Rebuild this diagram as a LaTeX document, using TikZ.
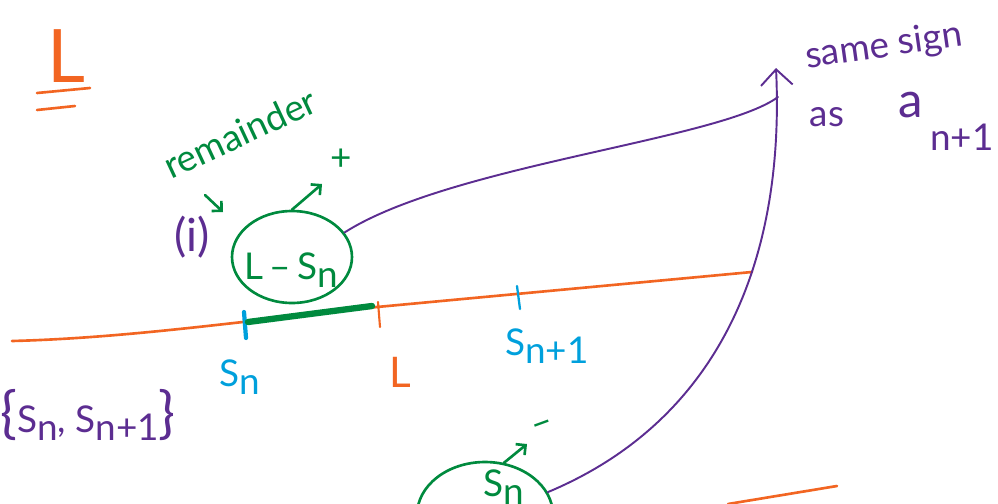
\documentclass[tikz,border=0pt]{standalone}
\usepackage{fontspec}
\setmainfont{Lato}
\usetikzlibrary{arrows.meta, positioning, calc, shapes}
\definecolor{inkorange}{RGB}{242,101,34}
\definecolor{inkgreen}{RGB}{0,138,62}
\definecolor{inkblue}{RGB}{0,160,220}
\definecolor{inkpurple}{RGB}{92,45,145}
\newcommand{\lowsub}[1]{\raisebox{-0.45ex}{#1}}

\begin{document}
\begin{tikzpicture}[x=0.02cm, y=-0.02cm,
    hand/.style={font=\fontsize{21}{25}\selectfont, inner sep=0pt},
    orangeink/.style={draw=inkorange, line width=1.5pt, line cap=round},
    blueink/.style={draw=inkblue, line cap=round},
    purpleink/.style={draw=inkpurple, line width=1.1pt, line cap=round},
    greenarrow/.style={draw=inkgreen, line width=1.5pt, line cap=round, -{Straight Barb[length=4pt, width=8pt]}},
    blob/.style={ellipse, draw=inkgreen, line width=1.5pt}]
  \useasboundingbox (0,0) rectangle (998,504);
  % double underlined L
  \node[hand, text=inkorange, font=\fontsize{42}{48}\selectfont] (bigL) at (66,56) {L};
  \draw[orangeink] (37,93) -- (90,88);
  \draw[orangeink] (37,110) -- (75,106);
  % remainder and case (i)
  \node[hand, text=inkgreen, rotate=25] (remword) at (240,133) {remainder};
  \coordinate (remfoot) at (205,195);
  \coordinate (remtip) at (223,212);
  \draw[greenarrow] (remfoot) -- (remtip);
  \node[hand, text=inkpurple, font=\fontsize{26}{30}\selectfont] (case) at (192,237) {(i)};
  % L - S_n blob
  \node[blob, minimum width=2.4cm, minimum height=1.84cm] (remblob) at (292,257) {};
  \node[hand, text=inkgreen] (remtext) at (291,270) {L\,–\,S\lowsub{n}};
  \coordinate (plustip) at (322,184);
  \draw[greenarrow] (remblob.north) -- (plustip);
  \node[hand, text=inkgreen] (plus) at (341,160) {+};
  % number line
  \draw[orangeink] (12,341) .. controls (130,338) and (250,320) .. (377,307) -- (752,272);
  \draw[blueink, line width=2.4pt] (244,312) -- (246,338);
  \draw[orangeink, line width=1.2pt] (378,302) -- (380,327);
  \draw[blueink, line width=1.3pt] (517,286) -- (520,309);
  \draw[inkgreen, line width=3.6pt, line cap=round] (248,322) -- (372,306);
  \node[hand, text=inkblue] (snlab) at (240,377) {S\lowsub{n}};
  \node[hand, text=inkorange, font=\fontsize{24}{28}\selectfont] (llab) at (400,372) {L};
  \node[hand, text=inkblue] (snnextlab) at (547,346) {S\lowsub{n+1}};
  % the pair
  \node[hand, text=inkpurple] (pair) at (88,415) {{\fontsize{32}{32}\selectfont\{}S\lowsub{n}, S\lowsub{n+1}{\fontsize{32}{32}\selectfont\}}};
  % S_n blob
  \node[blob, minimum width=2.72cm, minimum height=2.12cm] (snblob) at (485,515) {};
  \node[hand, text=inkgreen] (sntext) at (504,487) {S\lowsub{n}};
  \coordinate (minustip) at (527,444);
  \draw[greenarrow] (snblob.70) -- (minustip);
  \node[hand, text=inkgreen, rotate=20] (minus) at (543,428) {–};
  \draw[orangeink] (728,504) -- (837,486);
  % both signs lead to a_{n+1}
  \coordinate (signtip) at (776,68);
  \coordinate (merge) at (778,97);
  \draw[purpleink] (remblob.25) .. controls (450,165) and (720,140) .. (merge);
  \draw[purpleink, -{Straight Barb[length=9pt, width=18pt]}] (snblob.20) .. controls (720,420) and (785,260) .. (signtip);
  \node[hand, text=inkpurple, rotate=8] (samesign) at (884,47) {same sign};
  \node[hand, text=inkpurple] (aslab) at (827,117) {as};
  \node[hand, text=inkpurple, font=\fontsize{28}{32}\selectfont] (alab) at (911,105) {a};
  \node[hand, text=inkpurple] (idxlab) at (962,137) {n+1};
\end{tikzpicture}
\end{document}
